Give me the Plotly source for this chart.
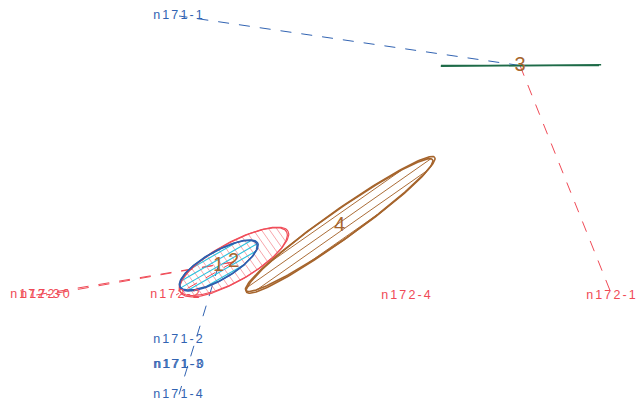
import numpy as np
import plotly.graph_objects as go

# Sample scores on the first two ordination axes
point_names = ["n171-1", "n171-2", "n171-3", "n171-0", "n171-4",
               "n172-3", "n172-0", "n172-2", "n172-4", "n172-1"]
point_x = [-1.40, -1.40, -1.40, -1.39, -1.40, -2.83, -2.73, -1.43, 0.88, 2.93]
point_y = [1.84, -1.395, -1.645, -1.645, -1.945, -0.95, -0.95, -0.95, -0.955, -0.955]
# class each sample is linked to (None: no link drawn)
point_group = [3, None, None, None, 1, 2, 2, 2, None, 3]

# Class ellipses: centre, half-axes and tilt in degrees
group_ids = [1, 2, 3, 4]
group_cx = [-1.005, -0.855, 2.01, 0.205]
group_cy = [-0.655, -0.62, 1.345, -0.255]
group_a = [0.44, 0.61, 0.79, 1.14]
group_b = [0.14, 0.19, 0.0, 0.14]
group_angle = [29.5, 29.0, 0.0, 35.0]

# --- styling -------------------------------------------------------------
SERIES_COLOR = {"n171": "#3163b2", "n172": "#f04a56"}
GROUP_LINE = {1: "#2f5fae", 2: "#f04e5a", 3: "#1e6b48", 4: "#a6652d"}
GROUP_WIDTH = {1: 1.5, 2: 1.2, 3: 1.5, 4: 1.6}
# hatch colour, hatch angle (deg), gap (axis units), line width
GROUP_HATCH = {
    1: ("rgba(30,190,220,0.95)", 30.0, 0.058, 1.1),
    2: ("rgba(240,78,90,0.5)", -55.0, 0.066, 1.0),
    4: ("rgba(166,101,45,0.95)", 35.0, 0.075, 1.0),
}
LABEL_COLOR = "#a6652d"
FONT = "Liberation Sans, Arial, sans-serif"


def rot(x, y, deg):
    r = np.deg2rad(deg)
    return x * np.cos(r) - y * np.sin(r), x * np.sin(r) + y * np.cos(r)


def outline(cx, cy, a, b, ang, scale=1.0, dang=0.0, phase=0.0):
    t = np.linspace(0, 2 * np.pi, 200)
    wob = 1 + 0.012 * np.sin(3 * t + phase)  # sketchy, hand-drawn wobble
    ex, ey = a * scale * np.cos(t) * wob, b * scale * np.sin(t) * wob
    x, y = rot(ex, ey, ang + dang)
    return cx + x, cy + y


def hatch(cx, cy, a, b, ang, hang, gap):
    """Parallel fill lines clipped to the ellipse."""
    u = np.array([np.cos(np.deg2rad(hang)), np.sin(np.deg2rad(hang))])
    n = np.array([-u[1], u[0]])
    ux, uy = rot(u[0], u[1], -ang)
    nx, ny = rot(n[0], n[1], -ang)
    xs, ys = [], []
    R = max(a, b)
    for s in np.arange(-R + gap / 2, R, gap):
        A = (ux / a) ** 2 + (uy / b) ** 2
        B = 2 * s * (nx * ux / a ** 2 + ny * uy / b ** 2)
        C = (s * nx / a) ** 2 + (s * ny / b) ** 2 - 1
        d = B * B - 4 * A * C
        if d <= 0:
            continue
        t1 = (-B - np.sqrt(d)) / (2 * A)
        t2 = (-B + np.sqrt(d)) / (2 * A)
        p1 = np.array([cx, cy]) + s * n + t1 * u
        p2 = np.array([cx, cy]) + s * n + t2 * u
        xs += [p1[0], p2[0], None]
        ys += [p1[1], p2[1], None]
    return xs, ys


fig = go.Figure()

# Spokes from each class centre to its members
for name, x, y, g in zip(point_names, point_x, point_y, point_group):
    if g is None:
        continue
    k = group_ids.index(g)
    fig.add_trace(go.Scatter(
        x=[group_cx[k], x], y=[group_cy[k], y], mode="lines",
        line=dict(color=SERIES_COLOR[name[:4]], width=1, dash="11px,10px"),
        hoverinfo="skip"))

# Hatched fills
for g in [2, 1, 4]:
    k = group_ids.index(g)
    col, hang, gap, w = GROUP_HATCH[g]
    hx, hy = hatch(group_cx[k], group_cy[k], group_a[k], group_b[k],
                   group_angle[k], hang, gap)
    fig.add_trace(go.Scatter(x=hx, y=hy, mode="lines",
                             line=dict(color=col, width=w), hoverinfo="skip"))

# Ellipse outlines, each stroked twice for a sketchy look
for g in [2, 1, 4, 3]:
    k = group_ids.index(g)
    for scale, dang, ph in [(1.0, 0.0, 0.0), (1.015, 0.6, 1.7)]:
        ox, oy = outline(group_cx[k], group_cy[k], group_a[k], group_b[k],
                         group_angle[k], scale, dang, ph)
        fig.add_trace(go.Scatter(
            x=ox, y=oy, mode="lines",
            line=dict(color=GROUP_LINE[g], width=GROUP_WIDTH[g]),
            hoverinfo="skip"))

# Sample labels
fig.add_trace(go.Scatter(
    x=point_x, y=point_y, mode="text", text=point_names,
    textposition="middle center",
    textfont=dict(family=FONT, size=12.5,
                  color=[SERIES_COLOR[n[:4]] for n in point_names]),
    hoverinfo="skip"))

# Class labels
fig.add_trace(go.Scatter(
    x=group_cx, y=group_cy, mode="text", text=[str(g) for g in group_ids],
    textposition="middle center",
    textfont=dict(family=FONT, size=20, color=LABEL_COLOR),
    hoverinfo="skip"))

fig.update_layout(
    width=638, height=401, margin=dict(l=0, r=0, t=0, b=0),
    paper_bgcolor="white", plot_bgcolor="white", showlegend=False,
    hovermode=False,
    xaxis=dict(range=[-3.19, 3.19], visible=False),
    yaxis=dict(range=[-2.01, 2.00], visible=False),
)

# widen the tracking of the sample labels
js = ("document.querySelectorAll('.textpoint text').forEach(function(e){"
      "if(e.textContent.length>2){e.style.letterSpacing='2.1px';}});")
fig.write_html("out.html", post_script=js)
